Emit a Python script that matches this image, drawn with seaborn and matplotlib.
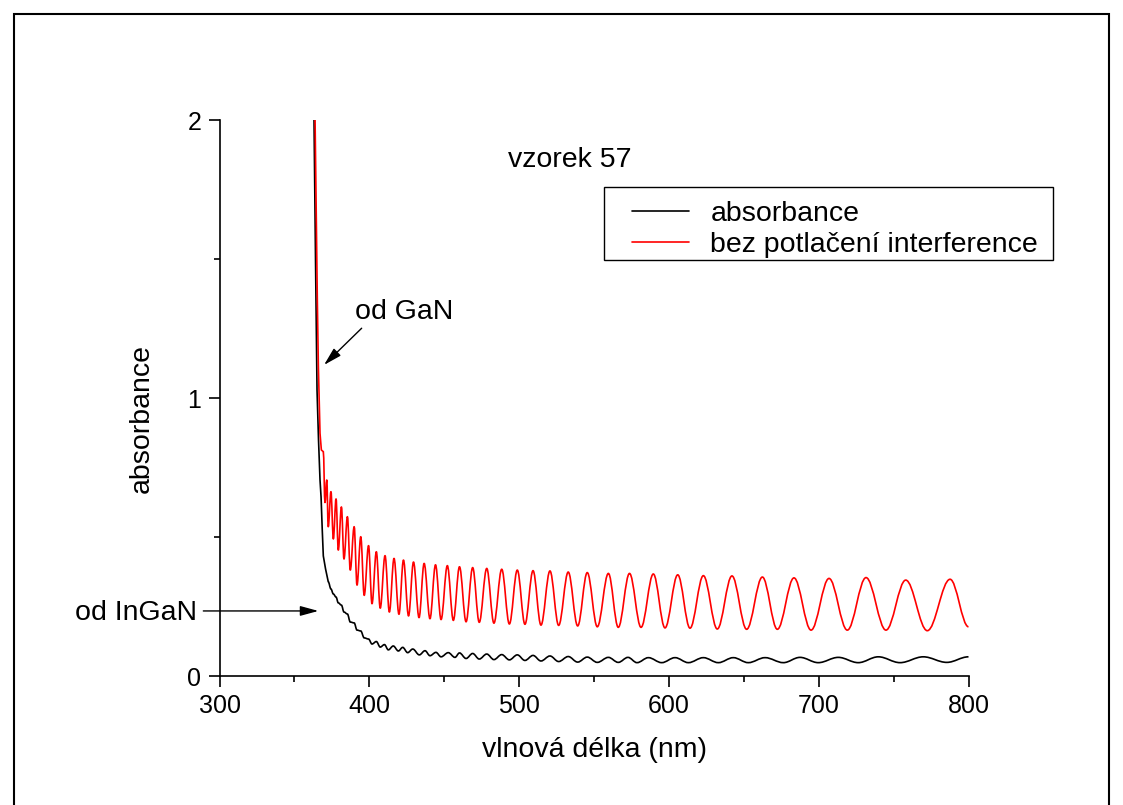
import matplotlib
matplotlib.use("Agg")
import matplotlib.pyplot as plt
import seaborn as sns
from matplotlib.path import Path
from matplotlib.patches import PathPatch, Rectangle
from matplotlib.lines import Line2D

# ---------------- data ----------------
# steep absorption edge (points connected directly)
red_edge_nm = [363.8, 365.3, 366.0, 367.1, 368.0, 369.3]
red_edge_abs = [2.000, 1.353, 1.113, 0.873, 0.813, 0.807]

# interference fringes of the red curve: alternating troughs / peaks
red_ext_nm = [370.4, 371.6, 372.6, 374.4, 376.0, 377.8, 379.3, 381.4, 383.1, 385.4,
              387.3, 389.9, 391.8, 394.3, 396.6, 399.5, 401.8, 404.7, 407.3, 410.5,
              413.4, 416.5, 419.8, 422.8, 426.2, 429.5, 433.2, 436.6, 440.5, 444.2,
              447.9, 452.1, 456.1, 460.2, 464.6, 469.0, 473.4, 478.4, 483.2, 488.4,
              493.5, 498.8, 503.9, 509.3, 514.6, 520.6, 526.4, 532.8, 539.1, 545.5,
              552.2, 559.6, 566.2, 573.7, 581.4, 589.6, 597.4, 605.9, 614.1, 623.0,
              632.3, 642.1, 651.9, 662.4, 672.4, 683.5, 694.9, 706.9, 719.1, 731.6,
              744.9, 758.1, 772.5, 787.7, 800.0]
red_ext_abs = [0.624, 0.705, 0.537, 0.663, 0.493, 0.637, 0.453, 0.608, 0.421, 0.573,
               0.381, 0.537, 0.327, 0.501, 0.290, 0.469, 0.260, 0.447, 0.244, 0.433,
               0.230, 0.423, 0.222, 0.417, 0.216, 0.410, 0.210, 0.405, 0.206, 0.400,
               0.203, 0.397, 0.200, 0.393, 0.195, 0.390, 0.193, 0.387, 0.190, 0.384,
               0.187, 0.381, 0.186, 0.379, 0.183, 0.378, 0.182, 0.374, 0.180, 0.372,
               0.177, 0.369, 0.175, 0.369, 0.175, 0.367, 0.173, 0.364, 0.172, 0.361,
               0.169, 0.360, 0.168, 0.356, 0.168, 0.353, 0.165, 0.351, 0.165, 0.354,
               0.165, 0.345, 0.163, 0.348, 0.177]

black_edge_nm = [363.1, 364.1, 365.1, 366.1, 367.1, 367.8, 368.6, 369.3, 370.8, 372.6]
black_edge_abs = [2.000, 1.496, 1.029, 0.849, 0.705, 0.644, 0.525, 0.432, 0.385, 0.339]

black_ext_nm = [374.4, 376.0, 377.8, 379.3, 381.4, 383.1, 385.4, 387.3, 389.9, 391.8,
                394.3, 396.6, 399.5, 401.8, 404.7, 407.3, 410.1, 412.7, 416.0, 419.4,
                422.3, 425.6, 429.0, 433.4, 437.2, 440.5, 444.5, 447.9, 452.7, 457.2,
                460.2, 464.6, 469.0, 473.4, 478.4, 483.2, 488.4, 493.5, 498.8, 503.9,
                509.3, 514.6, 520.6, 526.4, 532.8, 539.1, 545.5, 552.2, 559.6, 566.2,
                572.7, 578.7, 586.3, 595.2, 604.1, 613.0, 623.0, 633.0, 643.0, 653.0,
                664.2, 676.4, 687.5, 699.7, 713.1, 726.4, 739.8, 754.3, 769.8, 785.5,
                800.0]
black_ext_abs = [0.313, 0.295, 0.284, 0.263, 0.255, 0.230, 0.223, 0.194, 0.191, 0.165,
                 0.162, 0.137, 0.133, 0.115, 0.124, 0.104, 0.113, 0.094, 0.108, 0.090,
                 0.103, 0.084, 0.097, 0.076, 0.091, 0.073, 0.085, 0.069, 0.084, 0.067,
                 0.083, 0.063, 0.081, 0.061, 0.079, 0.059, 0.077, 0.058, 0.076, 0.056,
                 0.074, 0.054, 0.072, 0.052, 0.070, 0.050, 0.068, 0.049, 0.067, 0.049,
                 0.067, 0.048, 0.066, 0.048, 0.066, 0.048, 0.066, 0.048, 0.066, 0.048,
                 0.066, 0.048, 0.067, 0.048, 0.067, 0.048, 0.069, 0.048, 0.069, 0.049,
                 0.069]

x_ticks = [300, 400, 500, 600, 700, 800]
y_ticks = [0, 1, 2]
series_labels = ["absorbance", "bez potlačení interference"]
x_label = "vlnová délka (nm)"
y_label = "absorbance"
sample_title = "vzorek 57"

# ---------------- style ----------------
sns.set_theme(style="ticks")
plt.rcParams["font.family"] = ["Liberation Sans", "DejaVu Sans"]
plt.rcParams["axes.edgecolor"] = "black"
plt.rcParams["xtick.color"] = "black"
plt.rcParams["ytick.color"] = "black"
plt.rcParams["text.color"] = "black"
plt.rcParams["axes.labelcolor"] = "black"

W, H = 1123, 805
fig = plt.figure(figsize=(W / 100, H / 100), dpi=100)
fig.patch.set_facecolor("white")
ax = fig.add_axes([219.5 / W, 1 - 676 / H, (968.5 - 219.5) / W, (676 - 120) / H])
ax.set_facecolor("white")

LW = 1.2


def fringe_patch(x0, y0, xs, ys, color):
    """Smooth curve through successive extrema (horizontal tangents)."""
    verts = [(x0, y0)]
    codes = [Path.MOVETO]
    px, py = x0, y0
    k = 0.364
    for x, y in zip(xs, ys):
        dx = x - px
        verts += [(px + k * dx, py), (x - k * dx, y), (x, y)]
        codes += [Path.CURVE4] * 3
        px, py = x, y
    return PathPatch(Path(verts, codes), fill=False, edgecolor=color,
                     lw=LW, capstyle="butt", joinstyle="round")


# black curve
sns.lineplot(x=black_edge_nm, y=black_edge_abs, color="black", lw=LW,
             sort=False, estimator=None, ax=ax)
ax.add_patch(fringe_patch(black_edge_nm[-1], black_edge_abs[-1],
                          black_ext_nm, black_ext_abs, "black"))
# red curve
sns.lineplot(x=red_edge_nm, y=red_edge_abs, color="red", lw=LW,
             sort=False, estimator=None, ax=ax)
ax.add_patch(fringe_patch(red_edge_nm[-1], red_edge_abs[-1],
                          red_ext_nm, red_ext_abs, "red"))

ax.set_xlim(300, 800)
ax.set_ylim(0, 2)
ax.set_xticks(x_ticks)
ax.set_yticks(y_ticks)
ax.set_xticks([350, 450, 550, 650, 750], minor=True)
ax.set_yticks([0.5, 1.5], minor=True)
ax.tick_params(axis="both", which="major", length=8, width=1.2, labelsize=18,
               direction="out", pad=5)
ax.tick_params(axis="both", which="minor", length=4.5, width=1.2, direction="out")
sns.despine(ax=ax)
for s in ("left", "bottom"):
    ax.spines[s].set_linewidth(1.2)
    ax.spines[s].set_color("black")
ax.grid(False)

ax.set_xlabel(x_label, fontsize=20.5)
ax.set_ylabel(y_label, fontsize=20.5)
ax.xaxis.set_label_coords(0.5, -0.109)
ax.yaxis.set_label_coords(-0.087, 0.464)

# legend (frame drawn separately to match the wide left padding)
handles = [Line2D([], [], color="black", lw=LW),
           Line2D([], [], color="red", lw=LW)]
leg = fig.legend(handles, series_labels, loc="upper left",
                 bbox_to_anchor=(622 / W, 1 - 191 / H), bbox_transform=fig.transFigure,
                 fontsize=20.5, frameon=False, borderpad=0.35, handlelength=2.0,
                 handletextpad=0.75, labelspacing=0.17, borderaxespad=0)
fig.patches.append(Rectangle((604 / W, 1 - 260 / H), (1053 - 604) / W, 73 / H,
                             transform=fig.transFigure, fill=False,
                             edgecolor="black", lw=1.0))

# texts and arrows
fig.text(508 / W, 1 - 160 / H, sample_title, fontsize=20.5, ha="left", va="center")
ax.text(390.5, 1.309, "od GaN", fontsize=20.5, ha="left", va="center")
ax.annotate("", xy=(369.8, 1.119), xytext=(394.9, 1.251),
            arrowprops=dict(arrowstyle="-|>,head_length=0.55,head_width=0.15",
                            color="black", lw=1.0, mutation_scale=20,
                            shrinkA=0, shrinkB=0))
ax.annotate("", xy=(366.0, 0.234), xytext=(289.2, 0.234), annotation_clip=False,
            arrowprops=dict(arrowstyle="-|>,head_length=0.55,head_width=0.15",
                            color="black", lw=1.0, mutation_scale=20,
                            shrinkA=0, shrinkB=0))
ax.text(285.0, 0.225, "od InGaN", fontsize=20.5, ha="right", va="center",
        clip_on=False)

# outer border
fig.patches.append(Rectangle((14 / W, -0.01), (1109 - 14) / W, 1 - 14 / H + 0.01,
                             transform=fig.transFigure, fill=False,
                             edgecolor="black", lw=1.5))

fig.savefig("out.png", dpi=100, facecolor="white")
